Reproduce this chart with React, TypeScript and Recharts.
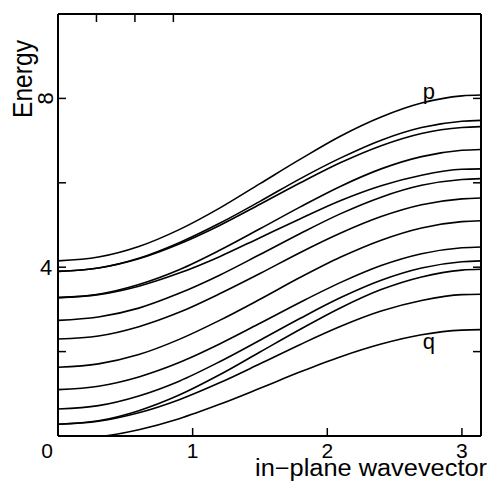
import { Line, LineChart, ReferenceDot, XAxis, YAxis } from "recharts";

// in-plane wavevector samples (0 .. pi)
const wavevector = [0, 0.3, 0.6, 0.9, 1.2, 1.5, 1.8, 2.1, 2.4, 2.7, 3.0, 3.1416];

// band energies, top (p) to bottom (q)
const bandP = [4.15, 4.24, 4.49, 4.89, 5.4, 5.98, 6.56, 7.11, 7.56, 7.89, 8.06, 8.08];
const band2 = [3.9, 3.98, 4.21, 4.58, 5.04, 5.56, 6.1, 6.59, 7.01, 7.31, 7.46, 7.48];
const band3 = [3.9, 3.98, 4.2, 4.55, 4.99, 5.49, 6.0, 6.48, 6.88, 7.17, 7.31, 7.33];
const band4 = [3.28, 3.36, 3.59, 3.94, 4.4, 4.91, 5.43, 5.92, 6.33, 6.62, 6.77, 6.79];
const band5 = [3.28, 3.35, 3.55, 3.86, 4.25, 4.7, 5.15, 5.58, 5.93, 6.18, 6.32, 6.33];
const band6 = [2.74, 2.82, 3.03, 3.38, 3.81, 4.3, 4.8, 5.27, 5.66, 5.94, 6.08, 6.1];
const band7 = [2.3, 2.37, 2.59, 2.93, 3.37, 3.85, 4.35, 4.81, 5.2, 5.48, 5.62, 5.64];
const band8 = [1.63, 1.71, 1.93, 2.29, 2.74, 3.24, 3.76, 4.24, 4.64, 4.93, 5.08, 5.1];
const band9 = [1.1, 1.18, 1.4, 1.74, 2.18, 2.67, 3.17, 3.64, 4.04, 4.32, 4.46, 4.48];
const band10 = [0.64, 0.72, 0.95, 1.3, 1.76, 2.27, 2.79, 3.28, 3.69, 3.98, 4.13, 4.15];
const band11 = [0.28, 0.36, 0.6, 0.97, 1.45, 1.99, 2.53, 3.04, 3.47, 3.77, 3.93, 3.95];
const band12 = [0.28, 0.35, 0.55, 0.86, 1.26, 1.71, 2.17, 2.6, 2.96, 3.21, 3.35, 3.36];
const bandQ = [-0.08, -0.02, 0.15, 0.41, 0.75, 1.13, 1.52, 1.88, 2.18, 2.4, 2.51, 2.52];

const bands = [bandP, band2, band3, band4, band5, band6, band7, band8, band9, band10, band11, band12, bandQ];

const xTicks = [0, 1, 2, 3];
const yTicks = [2, 4, 6, 8];
const yLabelled = [4, 8];

const data = wavevector.map((k, i) => {
  const row: Record<string, number> = { k };
  bands.forEach((b, j) => {
    row["b" + j] = b[i];
  });
  return row;
});

const font = "'Liberation Sans', Arial, sans-serif";

function BottomTick(props: any) {
  const { x, y, payload } = props;
  const v = payload.value;
  return (
    <g>
      {v !== 0 && <line x1={x} y1={y} x2={x} y2={y - 8} stroke="#000" strokeWidth={1.5} />}
      <text x={v === 0 ? x - 11 : x} y={y + 22} textAnchor="middle" fontSize={21} fontFamily={font} fill="#000">
        {v}
      </text>
    </g>
  );
}

function TopTick(props: any) {
  const { x, y } = props;
  return <line x1={x} y1={y} x2={x} y2={y + 8} stroke="#000" strokeWidth={1.5} />;
}

function LeftTick(props: any) {
  const { x, y, payload } = props;
  const v = payload.value;
  const lx = x - 12;
  return (
    <g>
      <line x1={x} y1={y} x2={x + 8} y2={y} stroke="#000" strokeWidth={1.5} />
      {yLabelled.includes(v) && (
        <text
          x={lx}
          y={y}
          textAnchor="middle"
          dominantBaseline="central"
          fontSize={22}
          fontFamily={font}
          fill="#000"
          transform={v === 8 ? `rotate(-90 ${lx} ${y})` : undefined}
        >
          {v}
        </text>
      )}
    </g>
  );
}

function RightTick(props: any) {
  const { x, y } = props;
  return <line x1={x} y1={y} x2={x - 8} y2={y} stroke="#000" strokeWidth={1.5} />;
}

function EnergyLabel() {
  return (
    <text
      x={32}
      y={79}
      transform="rotate(-90 32 79)"
      textAnchor="middle"
      fontSize={28}
      fontFamily={font}
      fill="#000"
      textLength={78}
      lengthAdjust="spacingAndGlyphs"
    >
      Energy
    </text>
  );
}

function WavevectorLabel() {
  return (
    <text
      x={487}
      y={476}
      textAnchor="end"
      fontSize={23}
      fontFamily={font}
      fill="#000"
      textLength={232}
      lengthAdjust="spacingAndGlyphs"
    >
      in−plane wavevector
    </text>
  );
}

export default function App() {
  return (
    <div style={{ position: "absolute", left: 0, top: 0, background: "#fff" }}>
      <LineChart width={489} height={485} data={data} margin={{ top: 0, right: 0, bottom: 0, left: 0 }}>
        <XAxis
          dataKey="k"
          type="number"
          domain={[0, Math.PI]}
          allowDataOverflow
          ticks={xTicks}
          interval={0}
          height={49}
          tickSize={0}
          tickMargin={0}
          tick={BottomTick}
          axisLine={{ stroke: "#000", strokeWidth: 2 }}
          label={<WavevectorLabel />}
        />
        <XAxis
          xAxisId="top"
          orientation="top"
          type="number"
          domain={[0, Math.PI]}
          allowDataOverflow
          ticks={[1, 2, 3]}
          interval={0}
          height={14}
          tickSize={0}
          tickMargin={0}
          tick={TopTick}
          axisLine={{ stroke: "#000", strokeWidth: 2 }}
        />
        <YAxis
          type="number"
          domain={[0, 10]}
          allowDataOverflow
          ticks={yTicks}
          interval={0}
          width={58}
          tickSize={0}
          tickMargin={0}
          tick={LeftTick}
          axisLine={{ stroke: "#000", strokeWidth: 2 }}
          label={<EnergyLabel />}
        />
        <YAxis
          yAxisId="right"
          orientation="right"
          type="number"
          domain={[0, 10]}
          allowDataOverflow
          ticks={yTicks}
          interval={0}
          width={8}
          tickSize={0}
          tickMargin={0}
          tick={RightTick}
          axisLine={{ stroke: "#000", strokeWidth: 2 }}
        />
        {bands.map((_, j) => (
          <Line
            key={j}
            dataKey={"b" + j}
            type="monotone"
            stroke="#000"
            strokeWidth={1.6}
            dot={false}
            activeDot={false}
            isAnimationActive={false}
          />
        ))}
        <ReferenceDot
          x={2.755}
          y={8.18}
          r={0}
          stroke="none"
          label={{ value: "p", position: "center", fontSize: 22, fontFamily: font, fill: "#000" }}
        />
        <ReferenceDot
          x={2.755}
          y={2.25}
          r={0}
          stroke="none"
          label={{ value: "q", position: "center", fontSize: 22, fontFamily: font, fill: "#000" }}
        />
      </LineChart>
    </div>
  );
}
